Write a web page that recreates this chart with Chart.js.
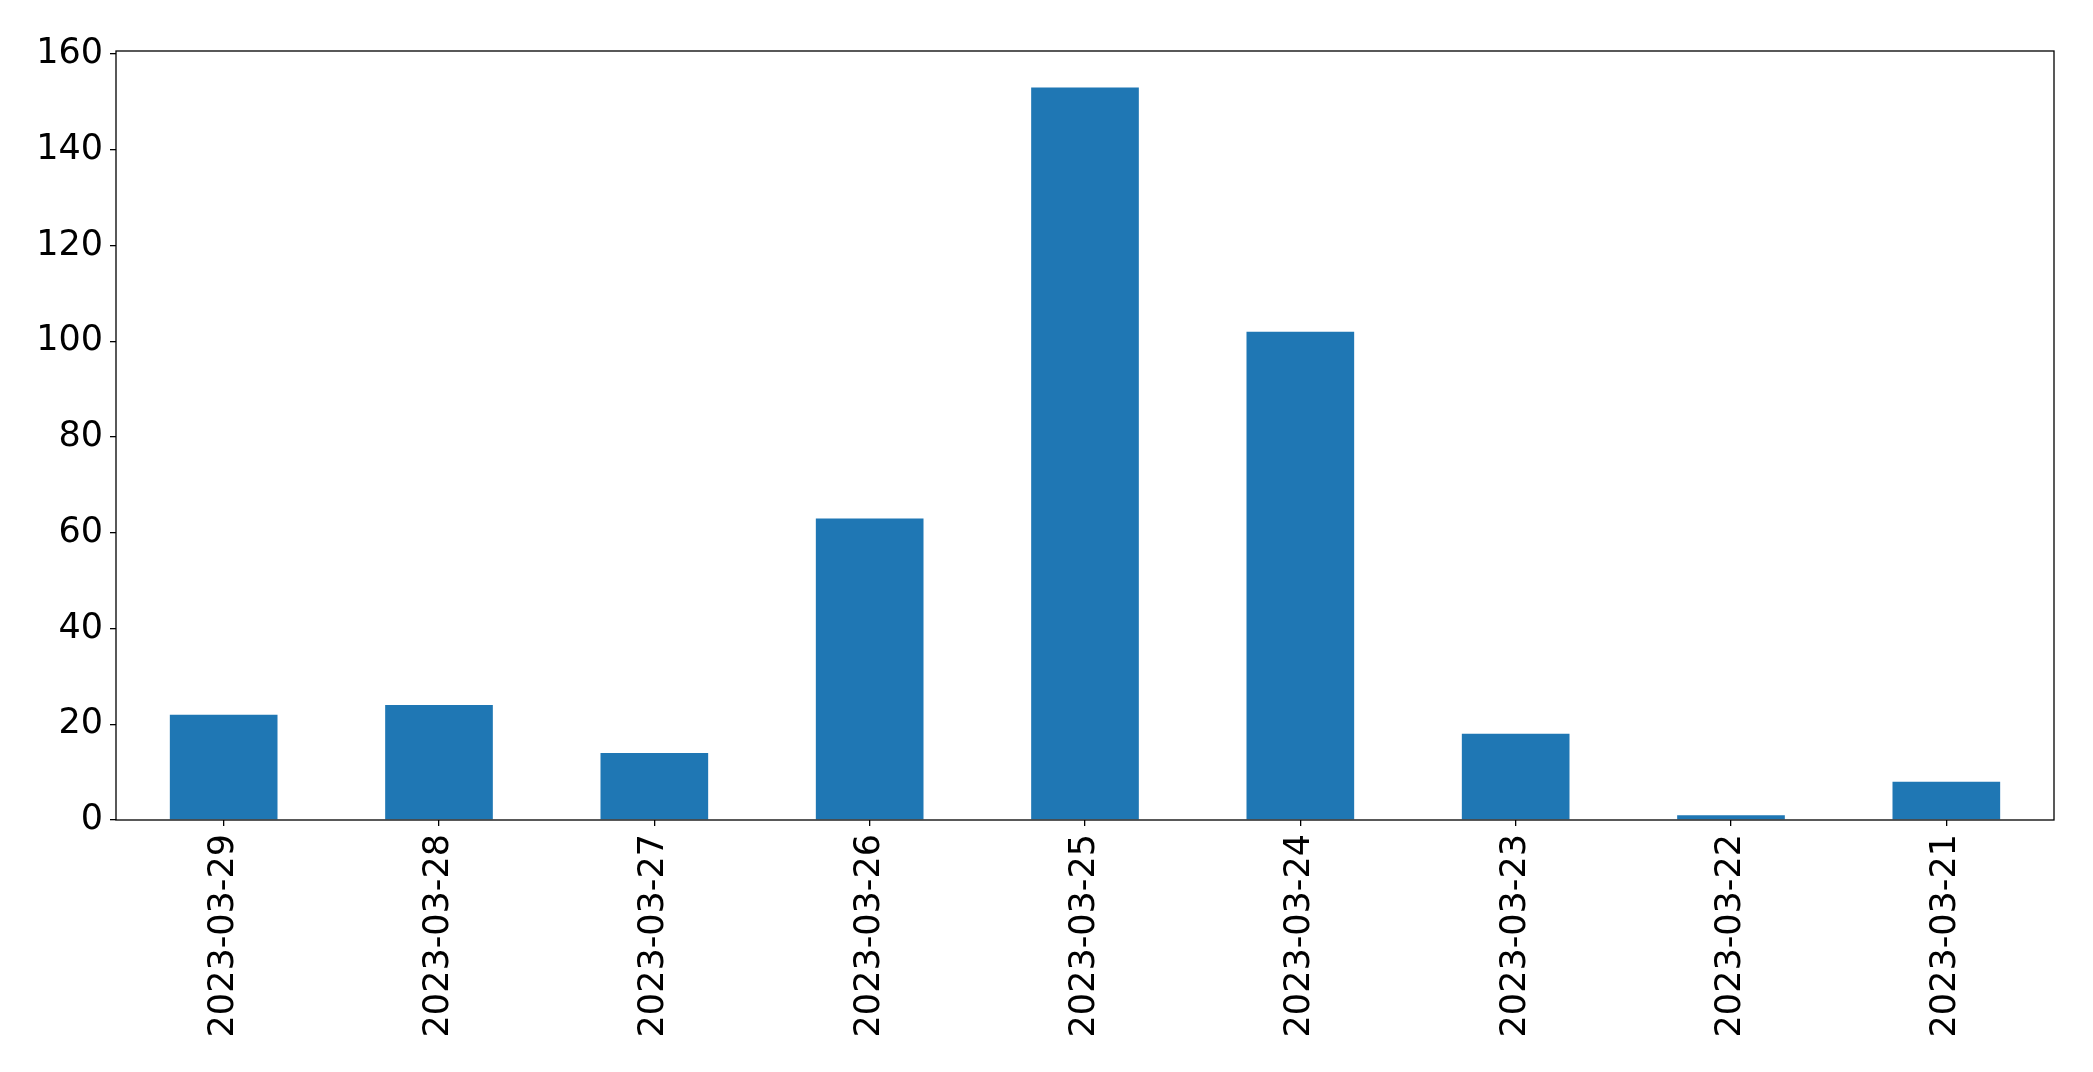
<!DOCTYPE html>
<html>
<head>
<meta charset="utf-8">
<script src="https://cdn.jsdelivr.net/npm/chart.js@4/dist/chart.umd.min.js"></script>
<style>
  html, body { margin: 0; padding: 0; background: #fff; }
  #wrap { width: 2093px; height: 1072px; }
</style>
</head>
<body>
<div id="wrap"><canvas id="bars" width="2093" height="1072"></canvas></div>
<script>
'use strict';

// dates, newest first (as in the picture)
const dates = ['2023-03-29', '2023-03-28', '2023-03-27', '2023-03-26', '2023-03-25',
  '2023-03-24', '2023-03-23', '2023-03-22', '2023-03-21'];
const counts = [22, 24, 14, 63, 153, 102, 18, 1, 8];
const yTicks = [0, 20, 40, 60, 80, 100, 120, 140, 160];
const yMax = 160.65;

// draw the box round the plot area
const frame = {
  id: 'frame',
  afterDraw(chart) {
    const a = chart.chartArea;
    const ctx = chart.ctx;
    ctx.save();
    ctx.strokeStyle = '#000';
    ctx.lineWidth = 1.3;
    ctx.strokeRect(a.left, a.top, a.right - a.left, a.bottom - a.top);
    ctx.restore();
  }
};

const barConfig = {
  type: 'bar',
  data: {
    labels: dates,
    datasets: [
      {
        data: counts,
        backgroundColor: '#1f77b4',
        borderWidth: 0,
        barPercentage: 0.5,
        categoryPercentage: 1.0,
      },
    ],
  },
  options: {
    responsive: false,
    animation: false,
    devicePixelRatio: 1,
    layout: { padding: { left: 0, right: 39, top: 51, bottom: 0 } },
    plugins: {
      legend: { display: false },
      tooltip: { enabled: false },
    },
    scales: {
      x: {
        offset: true,
        grid: { display: true, offset: false, drawOnChartArea: false, tickLength: 6, color: '#000', lineWidth: 1.3 },
        border: { display: false },
        ticks: {
          autoSkip: false,
          minRotation: 90,
          maxRotation: 90,
          padding: 8,
          color: '#000',
          font: { family: 'DejaVu Sans', size: 35 },
        },
        afterFit(scale) { scale.height = 1072 - 820; },
      },
      y: {
        min: 0,
        max: yMax,
        grid: { display: true, drawOnChartArea: false, tickLength: 6, color: '#000', lineWidth: 1.3 },
        border: { display: false },
        afterBuildTicks(scale) { scale.ticks = yTicks.map(v => ({ value: v })); },
        ticks: {
          padding: 7,
          color: '#000',
          font: { family: 'DejaVu Sans', size: 35 },
        },
        afterFit(scale) { scale.width = 116; },
      },
    },
  },
  plugins: [frame],
};

const barsCtx = document.getElementById('bars');
window.myBar = new Chart(barsCtx, barConfig);
</script>
</body>
</html>
